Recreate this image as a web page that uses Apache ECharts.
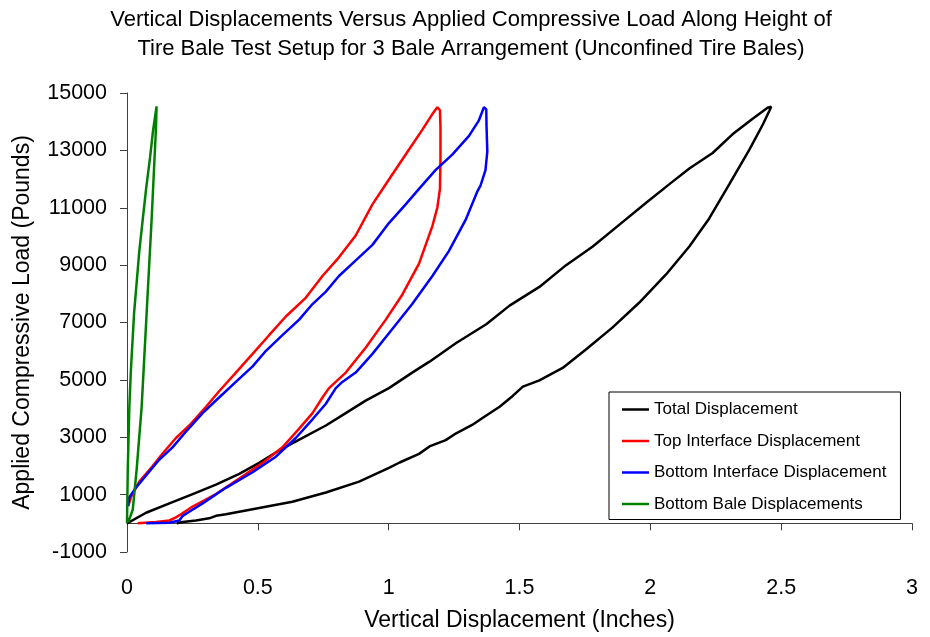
<!DOCTYPE html>
<html>
<head>
<meta charset="utf-8">
<script src="https://cdn.jsdelivr.net/npm/echarts@6.0.0/dist/echarts.min.js"></script>
<style>
	body { margin: 0; background: #fff; }
	#baleChart { width: 930px; height: 637px; }
</style>
</head>
<body>
<div id="baleChart"></div>

<script>

// [displacement (in), load (lb)] - loading branch then unloading branch
var totalDisp = [[0,0],[0.073,369],[0.162,695],[0.251,1020],[0.340,1346],[0.429,1726],[0.505,2106],[0.581,2540],[0.671,2975],[0.760,3409],[0.836,3843],[0.912,4277],[1.001,4712],[1.090,5254],[1.156,5635],[1.258,6286],[1.373,6937],[1.462,7589],[1.576,8240],[1.678,8999],[1.780,9651],[1.882,10412],[1.984,11172],[2.073,11823],[2.149,12366],[2.238,12908],[2.314,13559],[2.391,14103],[2.448,14484],[2.462,14520],
	[2.455,14380],[2.429,13885],[2.378,13018],[2.302,11823],[2.225,10628],[2.149,9651],[2.060,8674],[1.958,7696],[1.856,6829],[1.755,6068],[1.665,5416],[1.576,4983],[1.513,4765],[1.474,4440],[1.424,4061],[1.360,3680],[1.319,3430],[1.258,3137],[1.218,2900],[1.156,2680],[1.116,2420],[1.042,2120],[1.001,1930],[0.887,1455],[0.760,1075],[0.632,749],[0.505,532],[0.378,315],[0.340,261],[0.314,174],[0.263,98],[0.213,43],[0.190,0]];

var topInterface = [[0.005,600],[0.015,912],[0.047,1455],[0.098,1997],[0.136,2432],[0.187,2975],[0.238,3409],[0.302,4061],[0.352,4603],[0.416,5254],[0.480,5906],[0.543,6557],[0.607,7209],[0.683,7860],[0.747,8620],[0.810,9272],[0.874,10032],[0.938,11117],[1.001,11986],[1.065,12854],[1.129,13723],[1.167,14266],[1.186,14504],
	[1.196,14400],[1.198,13800],[1.198,12746],[1.196,11660],[1.186,11009],[1.167,10357],[1.116,9054],[1.052,7969],[0.989,7100],[0.912,6123],[0.836,5254],[0.772,4712],[0.747,4386],[0.709,3843],[0.658,3300],[0.594,2649],[0.518,2106],[0.429,1563],[0.340,1020],[0.251,586],[0.206,315],[0.187,206],[0.162,98],[0.111,43],[0.041,0]];

var bottomInterface = [[0.003,600],[0.009,912],[0.034,1238],[0.073,1672],[0.123,2215],[0.174,2649],[0.225,3192],[0.289,3843],[0.352,4386],[0.416,4929],[0.480,5472],[0.531,6014],[0.594,6557],[0.658,7100],[0.709,7643],[0.760,8077],[0.810,8620],[0.861,9054],[0.938,9706],[1.001,10466],[1.065,11117],[1.116,11660],[1.179,12311],[1.243,12854],[1.307,13506],[1.345,14048],[1.364,14504],
	[1.373,14429],[1.374,13832],[1.377,12963],[1.370,12311],[1.351,11768],[1.338,11552],[1.294,10575],[1.230,9489],[1.167,8620],[1.090,7643],[1.014,6774],[0.938,5906],[0.874,5254],[0.823,4929],[0.798,4712],[0.760,4169],[0.709,3626],[0.645,2975],[0.569,2323],[0.480,1780],[0.378,1238],[0.289,695],[0.232,369],[0.213,261],[0.200,98],[0.162,22],[0.073,0]];

var bottomBale = [[0,0],[0.003,1889],[0.009,4061],[0.015,5363],[0.027,7318],[0.037,8403],[0.047,9489],[0.060,10575],[0.073,11660],[0.088,12746],[0.100,13723],[0.113,14536],
	[0.111,13832],[0.094,10575],[0.075,7318],[0.056,4061],[0.037,1889],[0.022,478],[0.005,42]];

var seriesNames = ['Total Displacement', 'Top Interface Displacement', 'Bottom Interface Displacement', 'Bottom Bale Displacements'];
var seriesColors = ['#000000', '#ff0000', '#0000ff', '#008000'];
var yTicks = [-1000, 1000, 3000, 5000, 7000, 9000, 11000, 13000, 15000];

var font = "'Liberation Sans', Arial, sans-serif";

var baleChart = echarts.init(document.getElementById('baleChart'));

function makeSeries(i, data) {
	return {
		name: seriesNames[i],
		type: 'line',
		data: data,
		symbol: 'none',
		smooth: false,
		color: seriesColors[i],
		lineStyle: { color: seriesColors[i], width: 2.5 }
	};
}

baleChart.setOption({
	animation: false,
	backgroundColor: '#ffffff',
	title: {
		text: 'Vertical Displacements Versus Applied Compressive Load Along Height of\nTire Bale Test Setup for 3 Bale Arrangement (Unconfined Tire Bales)',
		left: 466,
		top: 0,
		textAlign: 'center',
		textStyle: { fontFamily: font, fontSize: 22, fontWeight: 'normal', color: '#000', lineHeight: 29 }
	},
	legend: {
		orient: 'vertical',
		left: 609,
		top: 392,
		icon: 'path://M0,0H27V2.5H0Z',
		itemWidth: 27,
		itemHeight: 18,
		itemGap: 14.5,
		padding: [9, 14, 7, 13],
		backgroundColor: '#fff',
		borderColor: '#000',
		borderWidth: 1,
		borderRadius: 0,
		textStyle: { fontFamily: font, fontSize: 17, color: '#000' },
		data: seriesNames
	},
	grid: { left: 127, right: 18, top: 93, bottom: 53 },
	xAxis: {
		type: 'value',
		min: 0,
		max: 3,
		interval: 0.5,
		name: 'Vertical Displacement (Inches)',
		nameLocation: 'middle',
		nameGap: 57,
		nameTextStyle: { fontFamily: font, fontSize: 23, color: '#000' },
		axisLine: { onZero: true, lineStyle: { color: '#404040', width: 1 } },
		axisTick: { show: true, length: 7, lineStyle: { color: '#404040' } },
		axisLabel: { margin: 25, fontFamily: font, fontSize: 21.5, color: '#000' },
		splitLine: { show: false }
	},
	yAxis: {
		type: 'value',
		min: -1000,
		max: 15000,
		name: 'Applied Compressive Load (Pounds)',
		nameLocation: 'middle',
		nameGap: 93,
		nameTextStyle: { fontFamily: font, fontSize: 23, color: '#000' },
		axisLine: { show: true, lineStyle: { color: '#404040', width: 1 } },
		axisTick: { show: true, length: 7, customValues: yTicks, lineStyle: { color: '#404040' } },
		axisLabel: {
			margin: 20,
			customValues: yTicks,
			fontFamily: font,
			fontSize: 21.5,
			color: '#000',
			formatter: function (v) { return String(v); }
		},
		splitLine: { show: false }
	},
	series: [
		makeSeries(0, totalDisp),
		makeSeries(1, topInterface),
		makeSeries(2, bottomInterface),
		makeSeries(3, bottomBale)
	]
});

</script>
</body>
</html>
